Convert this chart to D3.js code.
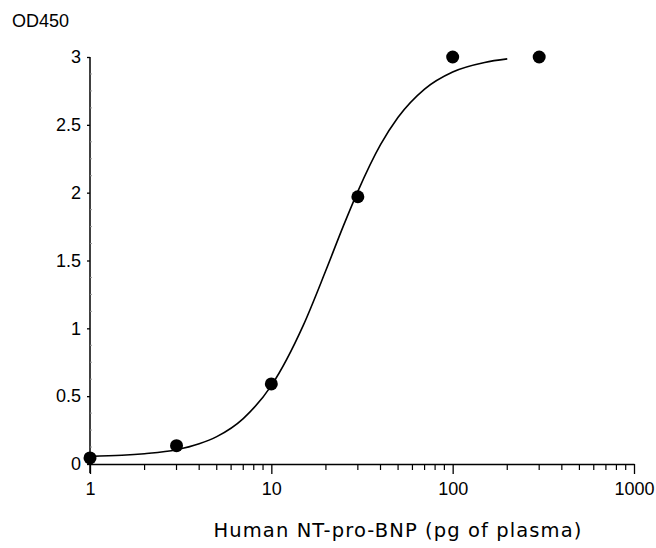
<!DOCTYPE html>
<html>
<head>
<meta charset="utf-8">
<script src="https://cdn.jsdelivr.net/npm/d3@7"></script>
<style>
  body { margin: 0; background: #fff; }
  svg { display: block; }
</style>
</head>
<body>
<svg id="chart"></svg>
<script>
// measured points
var doseX = [1, 3, 10, 30, 100, 300];
var odY = [0.045, 0.135, 0.59, 1.97, 3.0, 3.0];

// fitted curve
var fitX = [1, 1.5, 2, 3, 4, 5, 7, 10, 15, 20, 25, 30, 40, 50, 70, 100, 150, 200];
var fitY = [0.056, 0.064, 0.076, 0.105, 0.149, 0.202, 0.335, 0.578, 1.022, 1.428, 1.757, 2.01, 2.354, 2.556, 2.764, 2.89, 2.96, 2.986];

var xMajor = [1, 10, 100, 1000];
var xMinor = [2, 3, 4, 5, 6, 7, 8, 9, 20, 30, 40, 50, 60, 70, 80, 90, 200, 300, 400, 500, 600, 700, 800, 900];
var yMajor = [0, 0.5, 1, 1.5, 2, 2.5, 3];
var yMinor = [0.125, 0.25, 0.375, 0.625, 0.75, 0.875, 1.125, 1.25, 1.375, 1.625, 1.75, 1.875, 2.125, 2.25, 2.375, 2.625, 2.75, 2.875];

var screen = { width: 656, height: 548 };
var svg = d3.select("svg#chart")
            .attr("width", screen.width)
            .attr("height", screen.height);

var margins = { top: 57, bottom: 84, left: 90, right: 22 };
var width = screen.width - margins.left - margins.right;
var height = screen.height - margins.top - margins.bottom;

var xScale = d3.scaleLog()
               .domain([1, 1000])
               .range([margins.left, margins.left + width]);
var yScale = d3.scaleLinear()
               .domain([0, 3])
               .range([margins.top + height, margins.top]);

var tickFont = "Liberation Sans, Arial, sans-serif";

// x axis
var xAxis = d3.axisBottom(xScale)
              .tickValues(xMajor)
              .tickFormat(d3.format("d"))
              .tickSize(10)
              .tickPadding(8)
              .tickSizeOuter(0);
var gx = svg.append("g")
            .attr("transform", "translate(0," + yScale(0) + ")")
            .attr("font-family", tickFont)
            .attr("font-size", 18)
            .call(xAxis);
gx.attr("font-size", 18).attr("font-family", tickFont);
gx.select(".domain").attr("stroke-width", 1.5);
gx.selectAll(".tick line").attr("stroke-width", 1.3);
gx.selectAll(".tick text").attr("fill", "#000");

gx.selectAll("line.minor")
  .data(xMinor)
  .enter()
  .append("line")
  .classed("minor", true)
  .attr("x1", function(d){ return xScale(d); })
  .attr("x2", function(d){ return xScale(d); })
  .attr("y1", 0)
  .attr("y2", 6)
  .attr("stroke", "#000")
  .attr("stroke-width", 1.2);

// y axis
var yAxis = d3.axisLeft(yScale)
              .tickValues(yMajor)
              .tickFormat(function(d){ return d; })
              .tickSize(3)
              .tickPadding(6)
              .tickSizeOuter(0);
var gy = svg.append("g")
            .attr("transform", "translate(" + xScale(1) + ",0)")
            .call(yAxis);
gy.attr("font-size", 18).attr("font-family", tickFont);
gy.select(".domain").remove();
gy.append("line")
  .attr("x1", 0).attr("x2", 0)
  .attr("y1", yScale(3)).attr("y2", yScale(0) + 9)
  .attr("stroke", "#000")
  .attr("stroke-width", 1.5);
gy.selectAll(".tick line").attr("stroke-width", 1.3);
gy.selectAll(".tick text").attr("fill", "#000");

gy.selectAll("line.minor")
  .data(yMinor)
  .enter()
  .append("line")
  .classed("minor", true)
  .attr("x1", 0)
  .attr("x2", 2)
  .attr("y1", function(d){ return yScale(d); })
  .attr("y2", function(d){ return yScale(d); })
  .attr("stroke", "#999")
  .attr("stroke-width", 1);

// fitted curve
var fit = fitX.map(function(d, i){ return [d, fitY[i]]; });
var line = d3.line()
             .x(function(d){ return xScale(d[0]); })
             .y(function(d){ return yScale(d[1]); })
             .curve(d3.curveMonotoneX);
svg.append("path")
   .datum(fit)
   .attr("d", line)
   .attr("fill", "none")
   .attr("stroke", "#000")
   .attr("stroke-width", 1.6);

// points
svg.selectAll("circle.pt")
   .data(doseX)
   .enter()
   .append("circle")
   .classed("pt", true)
   .attr("cx", function(d){ return xScale(d); })
   .attr("cy", function(d, i){ return yScale(odY[i]); })
   .attr("r", 6.5)
   .attr("fill", "#000");

// labels
svg.append("text")
   .attr("x", 12)
   .attr("y", 27)
   .attr("font-family", tickFont)
   .attr("font-size", 18)
   .text("OD450");

svg.append("text")
   .attr("x", 398)
   .attr("y", 537)
   .attr("text-anchor", "middle")
   .attr("font-family", "DejaVu Sans, Verdana, sans-serif")
   .attr("font-size", 19.5)
   .attr("letter-spacing", 1.1)
   .text("Human NT-pro-BNP (pg of plasma)");
</script>
</body>
</html>
